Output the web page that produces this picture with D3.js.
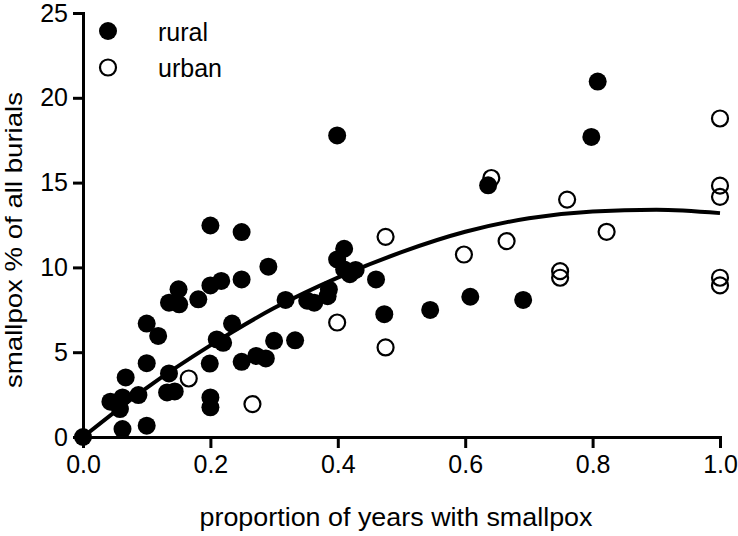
<!DOCTYPE html>
<html>
<head>
<meta charset="utf-8">
<script src="https://cdn.jsdelivr.net/npm/d3@7"></script>
<style>
  html, body { margin: 0; padding: 0; background: #fff; }
  svg { display: block; font-family: "Liberation Sans", Arial, Helvetica, sans-serif; }
</style>
</head>
<body>
<script>
// ---- data ----
const ruralX = [0, 0.043, 0.062, 0.058, 0.062, 0.067, 0.087, 0.1, 0.1, 0.1, 0.118, 0.135, 0.132, 0.144,
  0.135, 0.151, 0.15, 0.181, 0.2, 0.2, 0.217, 0.199, 0.2, 0.2, 0.21, 0.22, 0.234, 0.249, 0.249, 0.249,
  0.272, 0.287, 0.291, 0.3, 0.318, 0.333, 0.352, 0.363, 0.386, 0.384, 0.399, 0.41, 0.399, 0.41, 0.419,
  0.428, 0.46, 0.473, 0.545, 0.608, 0.691, 0.636, 0.798, 0.808];
const ruralY = [0, 2.08, 2.33, 1.65, 0.47, 3.51, 2.47, 0.67, 4.35, 6.69, 5.96, 3.75, 2.63, 2.69,
  7.92, 7.82, 8.71, 8.12, 12.47, 8.94, 9.2, 4.33, 2.33, 1.75, 5.75, 5.55, 6.69, 12.08, 9.29, 4.43,
  4.78, 4.63, 10.04, 5.67, 8.08, 5.7, 8.04, 7.92, 8.7, 8.3, 17.78, 11.1, 10.47, 9.88, 9.6,
  9.85, 9.29, 7.24, 7.49, 8.27, 8.08, 14.84, 17.69, 20.96];
const urbanX = [0.166, 0.266, 0.399, 0.475, 0.475, 0.598, 0.641, 0.665, 0.749, 0.749, 0.76, 0.822,
  1.0, 1.0, 1.0, 1.0, 1.0];
const urbanY = [3.45, 1.94, 6.75, 11.8, 5.28, 10.76, 15.27, 11.55, 9.78, 9.39, 14.0, 12.1,
  18.78, 14.82, 14.16, 9.39, 8.94];
// fitted curve
const curveX = [0, 0.1, 0.2, 0.3, 0.4, 0.5, 0.6, 0.7, 0.8, 0.9, 1.0];
const curveY = [0, 2.9, 5.4, 7.6, 9.4, 10.9, 12.1, 12.9, 13.3, 13.4, 13.2];
const xTicks = [0, 0.2, 0.4, 0.6, 0.8, 1.0];
const yTicks = [0, 5, 10, 15, 20, 25];
const seriesNames = ["rural", "urban"];
const xTitle = "proportion of years with smallpox";
const yTitle = "smallpox % of all burials";

// ---- drawing ----
const W = 738, H = 536;
const svg = d3.select("body").append("svg").attr("width", W).attr("height", H);

const x = d3.scaleLinear().domain([0, 1]).range([83, 720]);
const y = d3.scaleLinear().domain([0, 25]).range([437, 13]);

const xAxis = d3.axisBottom(x).tickValues(xTicks).tickFormat(d3.format(".1f"))
  .tickSizeInner(11).tickSizeOuter(0).tickPadding(7);
const yAxis = d3.axisLeft(y).tickValues(yTicks).tickFormat(d3.format("d"))
  .tickSizeInner(10).tickSizeOuter(0).tickPadding(5);

const gx = svg.append("g").attr("transform", `translate(0,${y(0)})`).call(xAxis);
const gy = svg.append("g").attr("transform", `translate(${x(0)},0)`).call(yAxis);

[gx, gy].forEach(g => {
  g.select(".domain").attr("stroke", "#000").attr("stroke-width", 3).attr("stroke-linecap", "square");
  g.selectAll(".tick line").attr("stroke", "#000").attr("stroke-width", 3);
  g.selectAll(".tick text").attr("fill", "#000").attr("font-size", 25)
    .attr("font-family", "'Liberation Sans', Arial, sans-serif");
});

// titles
svg.append("text").attr("x", 396).attr("y", 526).attr("text-anchor", "middle")
  .attr("font-size", 25).attr("textLength", 393).attr("lengthAdjust", "spacingAndGlyphs").text(xTitle);
svg.append("text").attr("transform", "translate(22,240) rotate(-90)").attr("text-anchor", "middle")
  .attr("font-size", 24).attr("textLength", 296).attr("lengthAdjust", "spacingAndGlyphs").text(yTitle);

// curve
const line = d3.line().x(d => x(d[0])).y(d => y(d[1])).curve(d3.curveMonotoneX);
svg.append("path").datum(d3.zip(curveX, curveY)).attr("d", line)
  .attr("fill", "none").attr("stroke", "#000").attr("stroke-width", 4);

// points
svg.append("g").selectAll("circle").data(d3.zip(urbanX, urbanY)).join("circle")
  .attr("cx", d => x(d[0])).attr("cy", d => y(d[1])).attr("r", 8)
  .attr("fill", "none").attr("stroke", "#000").attr("stroke-width", 2.2);
svg.append("g").selectAll("circle").data(d3.zip(ruralX, ruralY)).join("circle")
  .attr("cx", d => x(d[0])).attr("cy", d => y(d[1])).attr("r", 9).attr("fill", "#000");

// legend
const leg = svg.append("g");
leg.append("circle").attr("cx", 108).attr("cy", 31).attr("r", 9).attr("fill", "#000");
leg.append("circle").attr("cx", 108).attr("cy", 67.5).attr("r", 8)
  .attr("fill", "none").attr("stroke", "#000").attr("stroke-width", 2.2);
leg.append("text").attr("x", 158).attr("y", 40.5).attr("font-size", 25).text(seriesNames[0]);
leg.append("text").attr("x", 158).attr("y", 77).attr("font-size", 25).text(seriesNames[1]);
</script>
</body>
</html>
